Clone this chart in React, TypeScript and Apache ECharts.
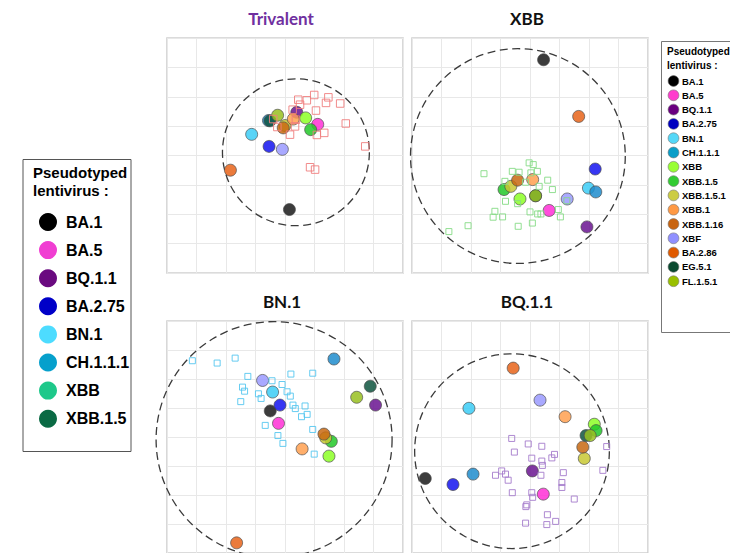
import React, { useEffect, useRef } from "react";
import * as echarts from "echarts";

// Variant names, in the order used by every antigen array below
const variants = [
  "BA.1", "BA.5", "BQ.1.1", "BA.2.75", "BN.1", "CH.1.1.1", "XBB", "XBB.1.5",
  "XBB.1.5.1", "XBB.1", "XBB.1.16", "XBF", "BA.2.86", "EG.5.1", "FL.1.5.1",
];
const variantColors = [
  "#1a1a1a", "#ff2fd6", "#6a1490", "#1414f0", "#3ccdf6", "#1f8ccc", "#8cff26",
  "#22c828", "#c8c832", "#ffa050", "#c86812", "#9a9aff", "#e8641a", "#0f5540", "#98c020",
];
const rightLegendColors = [
  "#000000", "#ff3ccd", "#6a0080", "#0000c0", "#55d8f8", "#0a9ec8", "#99ff33",
  "#33cc33", "#cccc44", "#ff9944", "#c86410", "#9090ff", "#e05a00", "#0a4a30", "#99c000",
];

// Second, shorter key
const leftLegendNames = ["BA.1", "BA.5", "BQ.1.1", "BA.2.75", "BN.1", "CH.1.1.1", "XBB", "XBB.1.5"];
const leftLegendColors = ["#000000", "#f03ed2", "#6a0a80", "#0000c8", "#4ddcff", "#06a0cc", "#1ec88a", "#0a6a44"];

const panelTitles = ["Trivalent", "XBB", "BN.1", "BQ.1.1"];
const panelTitleColors = ["#7030a0", "#111111", "#111111", "#111111"];
const seraColors = ["#f07e7e", "#86dc86", "#55c6f0", "#a57ccc"];

// Antigen positions (map units) per panel, one per variant
const trivalentAntigens = [
  [4.15, 2.16], [5.11, 5.06], [4.4, 5.47], [3.46, 4.31], [2.87, 4.72], [3.44, 5.19], [4.7, 5.28],
  [4.87, 4.88], [4.0, 5.02], [4.28, 5.24], [3.94, 4.94], [3.91, 4.21], [2.15, 3.5], [3.49, 5.18], [3.75, 5.37],
];
const xbbAntigens = [
  [4.46, 7.26], [4.65, 2.13], [5.93, 1.57], [6.21, 3.54], [5.98, 2.89], [6.23, 2.76], [3.66, 2.52],
  [3.12, 2.84], [3.35, 2.95], [4.09, 3.18], [3.58, 3.16], [5.26, 2.52], [5.65, 5.33], [4.19, 2.63], [4.19, 2.63],
];
const bn1Antigens = [
  [3.5, 4.9], [3.78, 4.47], [7.07, 5.1], [3.83, 5.1], [3.58, 5.55], [5.66, 6.69], [5.49, 3.34],
  [5.57, 3.85], [5.38, 3.97], [4.58, 3.59], [5.32, 4.1], [3.24, 5.95], [2.36, 0.35], [6.89, 5.75], [6.43, 5.37],
];
const bq11Antigens = [
  [0.45, 2.57], [4.45, 2.03], [4.08, 2.83], [1.39, 2.36], [1.93, 4.99], [2.07, 2.72], [6.18, 4.44],
  [6.24, 4.22], [5.84, 3.26], [5.19, 4.7], [5.79, 3.65], [4.34, 5.27], [3.43, 6.375], [5.9, 4.05], [6.04, 4.05],
];

// Serum positions per panel
const trivalentSera = [
  [4.45, 5.9], [4.74, 5.88], [4.99, 6.06], [5.47, 5.98], [5.39, 5.79], [5.87, 5.77], [5.05, 5.53],
  [4.26, 5.56], [4.51, 5.73], [4.37, 5.22], [4.17, 4.71], [5.08, 4.7], [5.33, 4.77], [6.06, 5.09],
  [6.72, 4.31], [4.85, 3.6], [5.02, 3.52], [3.6, 5.24], [3.74, 4.97], [4.34, 4.99],
];
const xbbSera = [
  [2.44, 3.38], [3.97, 3.75], [4.11, 3.69], [3.4, 3.46], [3.63, 3.43], [4.25, 3.46], [4.03, 3.41],
  [3.15, 3.12], [4.6, 3.16], [4.31, 2.95], [4.76, 2.84], [3.17, 2.44], [3.58, 2.36], [4.0, 2.08],
  [4.26, 2.01], [4.37, 2.01], [4.96, 2.16], [5.03, 1.91], [2.81, 2.1], [2.75, 1.9], [3.07, 1.91],
  [4.08, 1.7], [3.6, 1.59], [1.9, 1.61], [1.25, 1.41], [5.25, 2.46], [3.85, 3.09],
];
const bn1Sera = [
  [0.86, 6.63], [1.7, 6.55], [2.31, 6.72], [2.74, 6.09], [3.56, 5.94], [2.56, 5.72], [2.63, 5.58],
  [3.1, 5.49], [3.19, 5.33], [2.5, 5.22], [3.9, 5.81], [4.07, 5.56], [4.2, 6.17], [4.94, 6.2],
  [4.18, 5.41], [4.27, 5.1], [4.35, 4.98], [4.68, 5.07], [4.56, 4.7], [4.75, 4.78], [3.33, 4.4],
  [3.76, 4.05], [3.93, 3.78], [4.94, 4.26], [4.99, 3.41],
];
const bq11Sera = [
  [3.38, 3.95], [3.94, 3.76], [4.4, 3.68], [3.47, 3.48], [4.83, 3.4], [4.74, 3.28], [4.06, 3.27],
  [4.4, 3.17], [4.42, 3.02], [3.04, 2.83], [3.17, 2.72], [2.83, 2.68], [3.26, 2.51], [4.37, 2.68],
  [5.13, 2.77], [5.08, 2.43], [5.08, 2.26], [3.4, 2.08], [4.06, 2.08], [4.09, 1.92], [3.89, 1.66],
  [3.86, 1.6], [5.5, 1.86], [4.59, 1.32], [3.85, 1.03], [4.57, 0.98], [4.87, 1.09], [6.47, 2.85], [6.6, 3.67],
];

// Dashed boundary circles: [centre x, centre y, radius] in map units
const boundaryCircles = [
  [4.37, 4.11, 2.49],
  [3.59, 3.98, 3.64],
  [3.63, 3.91, 4.0],
  [3.39, 3.51, 3.3],
];

const antigenSets = [trivalentAntigens, xbbAntigens, bn1Antigens, bq11Antigens];
const seraSets = [trivalentSera, xbbSera, bn1Sera, bq11Sera];

const panelBoxes = [
  { left: 167, top: 38 },
  { left: 412, top: 38 },
  { left: 167, top: 321 },
  { left: 412, top: 321 },
];
const PANEL = 236;
const sansFont = "'Liberation Sans', Arial, sans-serif";
const titleFont = "Lato, 'Liberation Sans', sans-serif";

export default function App() {
  const ref = useRef<HTMLDivElement>(null);

  useEffect(() => {
    if (!ref.current) return;
    const chart = echarts.init(ref.current, undefined, { renderer: "svg" });

    const grids = panelBoxes.map((b) => ({
      left: b.left,
      top: b.top,
      width: PANEL,
      height: PANEL - 1,
      show: true,
      borderColor: "#cfcfcf",
      borderWidth: 1.6,
      backgroundColor: "#ffffff",
      containLabel: false,
    }));

    const axisBase = {
      type: "value" as const,
      min: 0,
      max: 8,
      interval: 1,
      axisLabel: { show: false },
      axisTick: { show: false },
      axisLine: { show: false },
      splitLine: { show: true, lineStyle: { color: "#e8e8e8", width: 1 } },
    };
    const xAxes = panelBoxes.map((_, i) => ({ ...axisBase, gridIndex: i }));
    const yAxes = panelBoxes.map((_, i) => ({ ...axisBase, gridIndex: i }));

    const series: any[] = [];
    panelBoxes.forEach((_, i) => {
      series.push({
        type: "custom",
        xAxisIndex: i,
        yAxisIndex: i,
        clip: false,
        silent: true,
        z: 2,
        data: [boundaryCircles[i]],
        renderItem: (params: any, api: any) => {
          const c = api.coord([api.value(0), api.value(1)]);
          const r = api.size([api.value(2), 0])[0];
          return {
            type: "circle",
            shape: { cx: c[0], cy: c[1], r },
            style: { fill: "none", stroke: "#3a3a3a", lineWidth: 1.3, lineDash: [8, 4.5] },
          };
        },
      });
      series.push({
        type: "scatter",
        xAxisIndex: i,
        yAxisIndex: i,
        symbol: "circle",
        symbolSize: 12,
        z: 3,
        data: antigenSets[i].map((p, k) => ({
          name: variants[k],
          value: p,
          itemStyle: {
            color: variantColors[k],
            borderColor: "#4a4a4a",
            borderWidth: 0.8,
            opacity: 0.85,
          },
        })),
      });
      series.push({
        type: "scatter",
        xAxisIndex: i,
        yAxisIndex: i,
        symbol: "rect",
        symbolSize: i === 0 ? 7.5 : 6,
        z: 4,
        data: seraSets[i],
        itemStyle: {
          color: "rgba(255,255,255,0)",
          borderColor: seraColors[i],
          borderWidth: 1,
          opacity: 0.9,
        },
      });
    });

    const graphics: any[] = [];
    // Panel titles
    const titleCentres = [
      [281, 18],
      [527, 18],
      [282, 301],
      [527, 301],
    ];
    panelTitles.forEach((t, i) => {
      graphics.push({
        type: "text",
        x: titleCentres[i][0],
        y: titleCentres[i][1],
        style: {
          text: t,
          fill: panelTitleColors[i],
          font: `bold 17px ${titleFont}`,
          align: "center",
          verticalAlign: "middle",
        },
      });
    });

    // Left key
    graphics.push({
      type: "rect",
      shape: { x: 23, y: 159.5, width: 108, height: 292 },
      style: { fill: "#ffffff", stroke: "#555555", lineWidth: 1 },
    });
    graphics.push({
      type: "text",
      x: 33,
      y: 172,
      style: { text: "Pseudotyped", fill: "#000", font: `bold 15px ${sansFont}`, verticalAlign: "middle" },
    });
    graphics.push({
      type: "text",
      x: 33,
      y: 190,
      style: { text: "lentivirus :", fill: "#000", font: `bold 15px ${sansFont}`, verticalAlign: "middle" },
    });
    leftLegendNames.forEach((n, k) => {
      const y = 222 + k * 28.1;
      graphics.push({
        type: "circle",
        shape: { cx: 48, cy: y, r: 9 },
        style: { fill: leftLegendColors[k] },
      });
      graphics.push({
        type: "text",
        x: 66,
        y,
        style: { text: n, fill: "#000", font: `bold 16px ${sansFont}`, verticalAlign: "middle" },
      });
    });

    // Right key
    graphics.push({
      type: "rect",
      shape: { x: 661.5, y: 41.5, width: 90, height: 291 },
      style: { fill: "#ffffff", stroke: "#777777", lineWidth: 1 },
    });
    graphics.push({
      type: "text",
      x: 667,
      y: 51,
      style: { text: "Pseudotyped", fill: "#000", font: `bold 10px ${sansFont}`, verticalAlign: "middle" },
    });
    graphics.push({
      type: "text",
      x: 667,
      y: 65,
      style: { text: "lentivirus :", fill: "#000", font: `bold 10px ${sansFont}`, verticalAlign: "middle" },
    });
    variants.forEach((n, k) => {
      const y = 81 + k * 14.3;
      graphics.push({
        type: "circle",
        shape: { cx: 673.5, cy: y, r: 5.4 },
        style: { fill: rightLegendColors[k], stroke: "#777", lineWidth: 0.6 },
      });
      graphics.push({
        type: "text",
        x: 682,
        y,
        style: { text: n, fill: "#000", font: `bold 9.5px ${sansFont}`, verticalAlign: "middle" },
      });
    });

    chart.setOption({
      animation: false,
      backgroundColor: "#ffffff",
      grid: grids,
      xAxis: xAxes,
      yAxis: yAxes,
      series,
      graphic: { elements: graphics },
    });

    return () => chart.dispose();
  }, []);

  return (
    <div
      ref={ref}
      style={{ position: "absolute", left: 0, top: 0, width: 730, height: 553 }}
    />
  );
}
